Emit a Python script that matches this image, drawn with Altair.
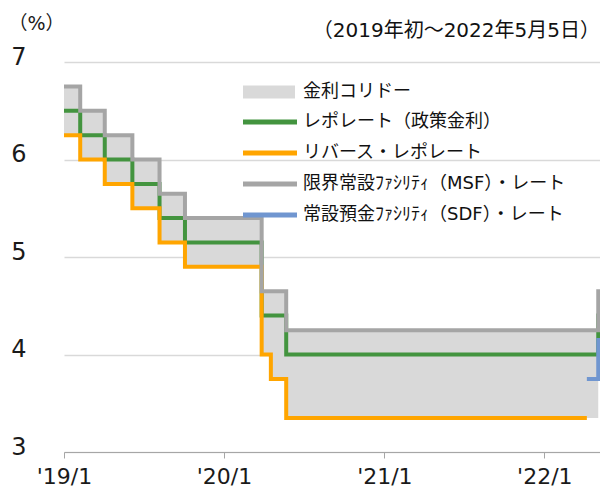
import altair as alt
import pandas as pd

# ---- data ----
repo_dates = ["2019-01-01", "2019-02-07", "2019-04-04", "2019-06-06", "2019-08-07",
              "2019-10-04", "2020-03-27", "2020-05-22", "2022-05-04", "2022-05-08"]
repo_vals = [6.50, 6.25, 6.00, 5.75, 5.40, 5.15, 4.40, 4.00, 4.40, 4.40]

rev_dates = ["2019-01-01", "2019-02-07", "2019-04-04", "2019-06-06", "2019-08-07",
             "2019-10-04", "2020-03-27", "2020-04-17", "2020-05-22", "2022-04-08"]
rev_vals = [6.25, 6.00, 5.75, 5.50, 5.15, 4.90, 4.00, 3.75, 3.35, 3.35]

msf_dates = repo_dates
msf_vals = [6.75, 6.50, 6.25, 6.00, 5.65, 5.40, 4.65, 4.25, 4.65, 4.65]

sdf_dates = ["2022-04-08", "2022-05-04", "2022-05-08"]
sdf_vals = [3.75, 4.15, 4.15]

corr_dates = ["2019-01-01", "2019-02-07", "2019-04-04", "2019-06-06", "2019-08-07",
              "2019-10-04", "2020-03-27", "2020-04-17", "2020-05-22", "2022-05-04", "2022-05-08"]
corr_upper = [6.75, 6.50, 6.25, 6.00, 5.65, 5.40, 4.65, 4.65, 4.25, 4.65, 4.65]
corr_lower = [6.25, 6.00, 5.75, 5.50, 5.15, 4.90, 4.00, 3.75, 3.35, 4.15, 4.15]

band_name = "金利コリドー"
series_names = ["レポレート（政策金利）", "リバース・レポレート",
                "限界常設ﾌｧｼﾘﾃｨ（MSF）・レート", "常設預金ﾌｧｼﾘﾃｨ（SDF）・レート"]
series_colors = ["#43943f", "#ffa500", "#a5a5a5", "#7096d0"]
band_color = "#d9d9d9"

y_ticks = [3, 4, 5, 6, 7]
x_tick_years = [2019, 2020, 2021, 2022]

# ---- tables ----
rows = []
for name, ds, vs in zip(series_names,
                        [repo_dates, rev_dates, msf_dates, sdf_dates],
                        [repo_vals, rev_vals, msf_vals, sdf_vals]):
    for d, v in zip(ds, vs):
        rows.append({"series": name, "date": d, "rate": v})
lines_df = pd.DataFrame(rows)

corr_df = pd.DataFrame({"date": corr_dates, "upper": corr_upper,
                        "lower": corr_lower, "band": band_name})

NUM = "DejaVu Sans"
MIX = "DejaVu Sans, Noto Sans CJK JP"

x_scale = alt.Scale(type="utc", domain=[alt.DateTime(year=2019, month=1, date=1, utc=True),
                                        alt.DateTime(year=2022, month=5, date=8, utc=True)])
y_scale = alt.Scale(domain=[3, 7], nice=False, zero=False)

x_axis = alt.Axis(
    values=[alt.DateTime(year=y, month=1, date=1, utc=True) for y in x_tick_years],
    labelExpr="\"'\" + utcFormat(datum.value, '%y') + '/1'",
    grid=False, domainColor="#a6a6a6", tickColor="#a6a6a6", tickSize=6,
    labelFont=NUM, labelFontSize=22, labelColor="#1a1a1a", labelPadding=8,
    labelFlush=False, labelOverlap=False, title=None,
)
y_axis = alt.Axis(
    values=y_ticks, format="d", grid=True, gridColor="#d9d9d9", gridWidth=1.3,
    domain=False, ticks=False, labelFont=NUM, labelFontSize=24,
    labelColor="#1a1a1a", labelPadding=38, labelOffset=-5,
    title="（%）", titleAngle=0, titleX=-56, titleY=-39, titleAlign="left",
    titleBaseline="middle", titleFont=MIX, titleFontSize=19,
    titleFontWeight="normal", titleColor="#1a1a1a",
)

area = alt.Chart(corr_df).mark_area(interpolate="step-after", opacity=1).encode(
    x=alt.X("date:T", scale=x_scale, axis=x_axis),
    y=alt.Y("upper:Q", scale=y_scale, axis=y_axis),
    y2="lower:Q",
    fill=alt.Fill("band:N", scale=alt.Scale(domain=[band_name], range=[band_color]),
                  legend=alt.Legend(title=None, orient="none", legendX=217, legendY=21,
                                    symbolType="M-9.4,-1.3L1,-1.3L1,1.3L-9.4,1.3Z",
                                    symbolSize=100, symbolStrokeWidth=0, symbolOpacity=1,
                                    labelFont=MIX, labelFontSize=18, labelColor="#111111",
                                    labelLimit=400, padding=0)),
)

lines = alt.Chart(lines_df).mark_line(interpolate="step-after", strokeWidth=4).encode(
    x=alt.X("date:T", scale=x_scale),
    y=alt.Y("rate:Q", scale=y_scale),
    color=alt.Color("series:N", sort=series_names,
                    scale=alt.Scale(domain=series_names, range=series_colors),
                    legend=alt.Legend(title=None, orient="none", legendX=217, legendY=51,
                                      symbolType="M-9.4,0L1.4,0", symbolSize=100,
                                      symbolStrokeWidth=5, rowPadding=11,
                                      labelFont=MIX, labelFontSize=18, labelColor="#111111",
                                      labelLimit=400, padding=0)),
)

chart = alt.layer(area, lines).properties(
    width=536, height=390,
    title=alt.Title("（2019年初～2022年5月5日）", anchor="end", frame="group",
                    font=MIX, fontSize=20, fontWeight="normal", color="#111111",
                    offset=-27),
    padding={"left": 56, "top": 54, "right": 0, "bottom": 40},
    autosize=alt.AutoSizeParams(type="none"),
).configure_view(stroke=None)

chart.save("out.html", embed_options={"renderer": "svg", "actions": False})
